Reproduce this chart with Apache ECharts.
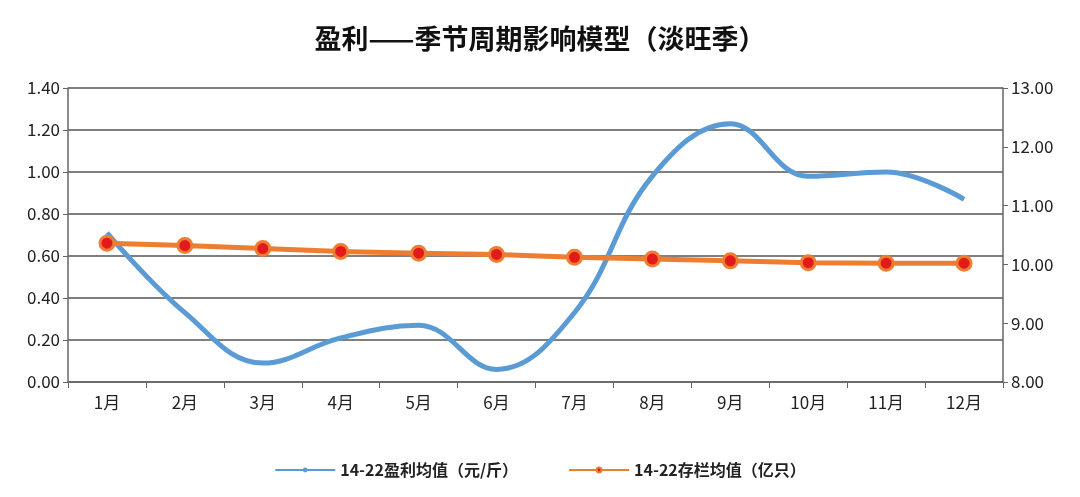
<!DOCTYPE html>
<html>
<head>
<meta charset="utf-8">
<script src="https://cdn.jsdelivr.net/npm/echarts@6/dist/echarts.min.js"></script>
<style>html,body{margin:0;background:#fff}#main{width:1080px;height:497px}</style>
</head>
<body>
<div id="main"></div>
<script>
const months = ['1月', '2月', '3月', '4月', '5月', '6月', '7月', '8月', '9月', '10月', '11月', '12月']
const profit = [0.71, 0.33, 0.09, 0.21, 0.27, 0.06, 0.33, 0.98, 1.23, 0.98, 1.00, 0.87]
const stock = [10.36, 10.32, 10.27, 10.22, 10.19, 10.17, 10.12, 10.09, 10.06, 10.03, 10.02, 10.02]

const chart = echarts.init(document.getElementById('main'))
const font = '"Noto Sans CJK SC", sans-serif'
chart.setOption({
  textStyle: { fontFamily: font },
  title: {
    text: '盈利——季节周期影响模型（淡旺季）',
    left: 'center', top: 20,
    textStyle: { fontSize: 27, fontWeight: 'bold', color: '#111', fontFamily: font }
  },
  legend: {
    bottom: 14, itemGap: 50, itemWidth: 60, itemHeight: 6,
    textStyle: { fontSize: 16, fontWeight: 'bold', color: '#222' },
    data: ['14-22盈利均值（元/斤）', '14-22存栏均值（亿只）']
  },
  grid: { left: 68, right: 77, top: 88, bottom: 115 },
  xAxis: {
    type: 'category', data: months, boundaryGap: true,
    axisLine: { lineStyle: { color: '#666', width: 1.5 } },
    axisTick: { show: true, length: 6, lineStyle: { color: '#666' } },
    axisLabel: { fontSize: 17, color: '#222', margin: 12 }
  },
  yAxis: [{
    type: 'value', min: 0, max: 1.4, interval: 0.2,
    axisLine: { show: true, lineStyle: { color: '#666', width: 1.5 } },
    axisTick: { show: true, lineStyle: { color: '#666' } },
    axisLabel: { fontSize: 17, color: '#222', formatter: v => v.toFixed(2) },
    splitLine: { lineStyle: { color: '#555', width: 1.5 } }
  }, {
    type: 'value', min: 8, max: 13, interval: 1,
    axisLine: { show: true, lineStyle: { color: '#666', width: 1.5 } },
    axisTick: { show: true, lineStyle: { color: '#666' } },
    axisLabel: { fontSize: 17, color: '#222', formatter: v => v.toFixed(2) },
    splitLine: { show: false }
  }],
  series: [{
    name: '14-22盈利均值（元/斤）', type: 'line', data: profit, smooth: 0.4,
    showSymbol: false, symbol: 'none',
    lineStyle: { color: '#5b9bd5', width: 5 }, itemStyle: { color: '#5b9bd5' }
  }, {
    name: '14-22存栏均值（亿只）', type: 'line', yAxisIndex: 1, data: stock,
    symbol: 'circle', symbolSize: 14,
    lineStyle: { color: '#ed7d31', width: 5 },
    itemStyle: { color: '#e31a1c', borderColor: '#ed7d31', borderWidth: 3 }
  }]
})
</script>
</body>
</html>
